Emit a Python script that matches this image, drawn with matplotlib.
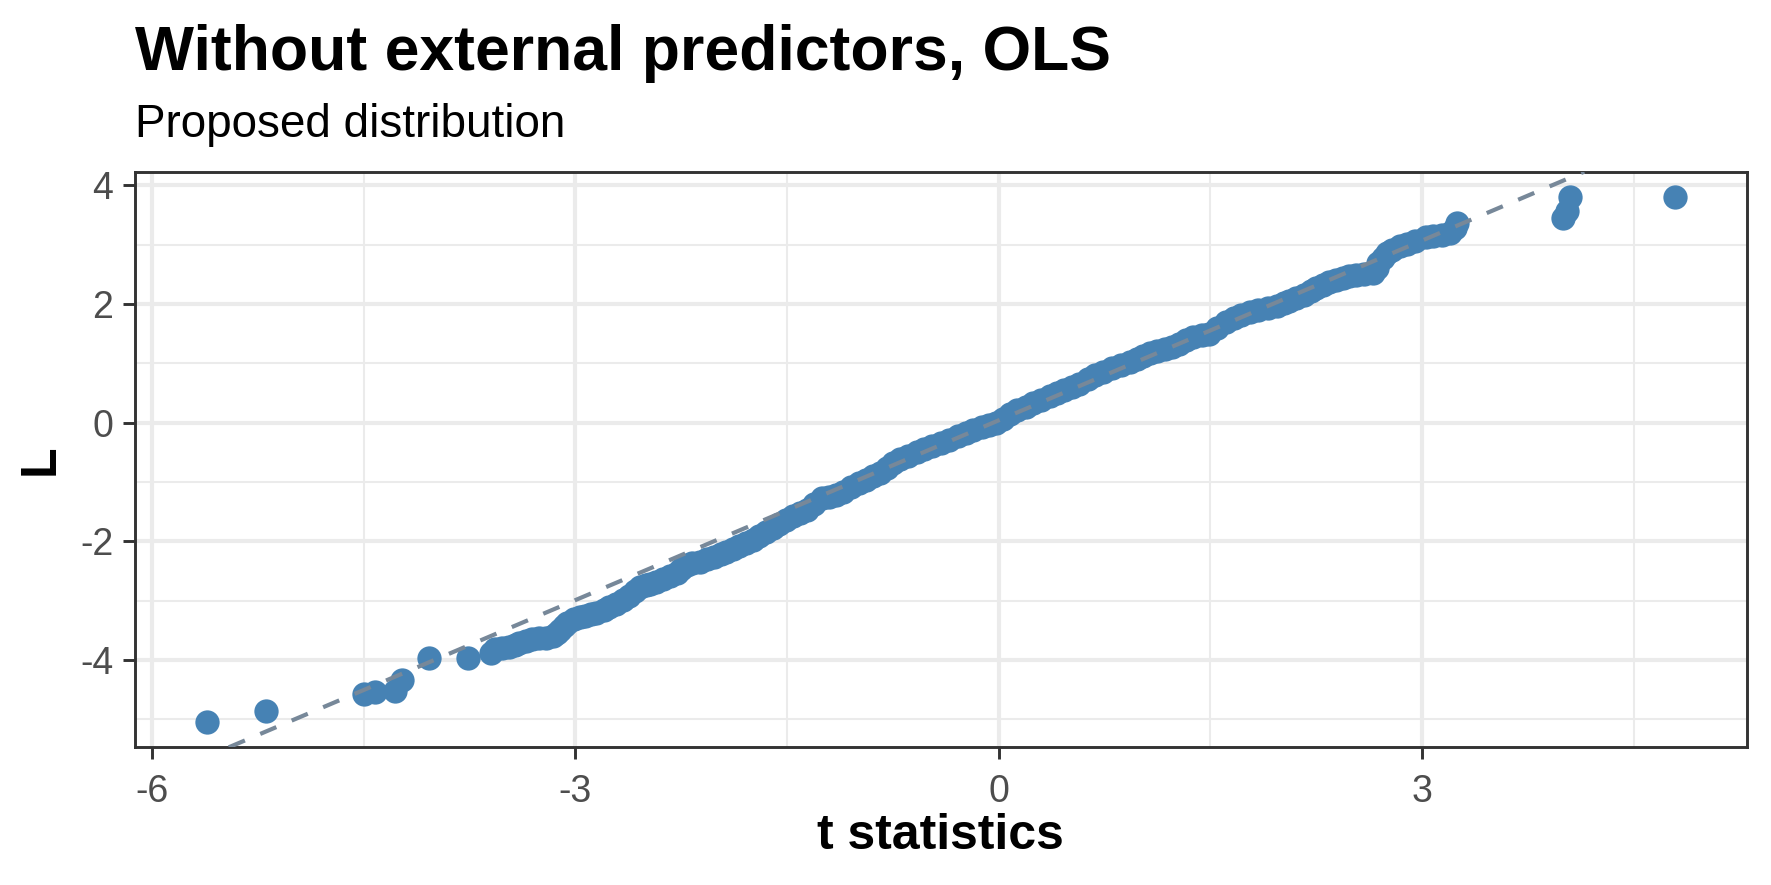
import numpy as np
import matplotlib
matplotlib.use("Agg")
import matplotlib.pyplot as plt
from matplotlib.ticker import MultipleLocator, FixedLocator

plt.rcParams['font.family'] = ['Liberation Sans', 'DejaVu Sans']

# ---------- data ----------
t_stat = [
    -5.61, -5.19, -4.50, -4.42, -4.28, -4.23, -4.04, -3.76,
    -3.60, -3.57, -3.52, -3.47, -3.43, -3.40, -3.35, -3.31, -3.26, -3.21,
    -3.16, -3.13, -3.11, -3.08, -3.06, -3.01, -2.97, -2.93, -2.89, -2.85,
    -2.80, -2.76, -2.71, -2.66, -2.62, -2.58, -2.54, -2.50, -2.47, -2.43,
    -2.38, -2.33, -2.28, -2.25, -2.21, -2.17, -2.12, -2.07, -2.02, -1.97,
    -1.93, -1.88, -1.84, -1.79, -1.74, -1.70, -1.65, -1.60, -1.56, -1.51,
    -1.46, -1.41, -1.36, -1.31, -1.25, -1.20, -1.15, -1.10, -1.05, -0.99,
    -0.94, -0.89, -0.84, -0.79, -0.75, -0.70, -0.64, -0.58, -0.53, -0.47,
    -0.41, -0.35, -0.29, -0.23, -0.18, -0.12, -0.07, -0.02, 0.03, 0.08,
    0.13, 0.19, 0.24, 0.30, 0.36, 0.41, 0.46, 0.52, 0.57, 0.63,
    0.68, 0.74, 0.80, 0.87, 0.93, 0.98, 1.02, 1.07, 1.12, 1.18,
    1.23, 1.28, 1.33, 1.38, 1.44, 1.49, 1.55, 1.61, 1.67, 1.72,
    1.78, 1.84, 1.91, 1.97, 2.02, 2.06, 2.11, 2.16, 2.21, 2.25,
    2.30, 2.34, 2.39, 2.44, 2.48, 2.53, 2.59, 2.65, 2.68, 2.69,
    2.72, 2.75, 2.79, 2.84, 2.89, 2.95, 3.03, 3.08, 3.14, 3.20,
    3.23, 3.25, 4.00, 4.03, 4.05, 4.79,
]
L_vals = [
    -5.04, -4.86, -4.58, -4.54, -4.52, -4.34, -3.96, -3.96,
    -3.88, -3.82, -3.80, -3.78, -3.75, -3.72, -3.68, -3.65, -3.63, -3.62,
    -3.60, -3.55, -3.50, -3.43, -3.37, -3.31, -3.28, -3.26, -3.23, -3.21,
    -3.15, -3.10, -3.05, -2.99, -2.92, -2.84, -2.77, -2.74, -2.71, -2.68,
    -2.63, -2.59, -2.54, -2.46, -2.39, -2.36, -2.34, -2.30, -2.26, -2.22,
    -2.18, -2.13, -2.08, -2.03, -1.98, -1.91, -1.84, -1.77, -1.70, -1.64,
    -1.58, -1.52, -1.47, -1.37, -1.27, -1.25, -1.22, -1.16, -1.09, -1.02,
    -0.96, -0.90, -0.85, -0.76, -0.68, -0.61, -0.56, -0.50, -0.45, -0.40,
    -0.34, -0.29, -0.23, -0.18, -0.13, -0.08, -0.04, -0.01, 0.07, 0.15,
    0.21, 0.27, 0.33, 0.39, 0.45, 0.50, 0.55, 0.61, 0.66, 0.73,
    0.80, 0.86, 0.92, 0.98, 1.03, 1.08, 1.13, 1.17, 1.21, 1.25,
    1.28, 1.33, 1.40, 1.45, 1.47, 1.49, 1.60, 1.70, 1.76, 1.82,
    1.87, 1.90, 1.93, 1.96, 2.01, 2.05, 2.10, 2.16, 2.22, 2.27,
    2.32, 2.37, 2.41, 2.44, 2.47, 2.49, 2.50, 2.52, 2.60, 2.69,
    2.78, 2.86, 2.91, 2.97, 3.02, 3.07, 3.13, 3.15, 3.17, 3.19,
    3.28, 3.36, 3.45, 3.56, 3.81, 3.81,
]
line_intercept = 0.04
line_slope = 1.01

x_major = [-6, -3, 0, 3]
x_minor = [-4.5, -1.5, 1.5, 4.5]
y_major = [-4, -2, 0, 2, 4]
y_minor = [-5, -3, -1, 1, 3]

# ---------- figure ----------
W, H, DPI = 1771, 885, 300
fig = plt.figure(figsize=(W / DPI, H / DPI), dpi=DPI)
ax = fig.add_axes([135 / W, 1 - 747.3 / H, (1746.7 - 135) / W, (747.3 - 171.7) / H])

grid_col = "#EBEBEB"
ax.set_xticks(x_major)
ax.set_yticks(y_major)
ax.xaxis.set_minor_locator(FixedLocator(x_minor))
ax.yaxis.set_minor_locator(FixedLocator(y_minor))
ax.grid(True, which="major", color=grid_col, lw=1.0)
ax.grid(True, which="minor", color=grid_col, lw=0.5)
ax.set_axisbelow(True)

ax.scatter(t_stat, L_vals, s=34, color="#4682B4", linewidths=0, zorder=3)
ax.axline((0, line_intercept), slope=line_slope, color="#778899", lw=1.0,
          dashes=(4.2, 4.0), zorder=4)

ax.set_xlim(-6.12, 5.30)
ax.set_ylim(-5.47, 4.23)

for sp in ax.spines.values():
    sp.set_color("#333333")
    sp.set_linewidth(0.7)
ax.tick_params(which="major", length=2.8, width=0.7, color="#333333",
               labelcolor="#4D4D4D", labelsize=9)
ax.tick_params(axis="x", which="major", pad=3.6)
ax.tick_params(axis="y", which="major", pad=2.4)
ax.tick_params(which="minor", length=0)
ax.set_xticklabels([str(v) for v in x_major])
ax.set_yticklabels([str(v) for v in y_major])

fig.text(135 / W, 1 - 70 / H, "Without external predictors, OLS",
         fontsize=15.0, fontweight="bold", ha="left", va="baseline")
fig.text(135 / W, 1 - 136.7 / H, "Proposed distribution",
         fontsize=11.0, ha="left", va="baseline")
fig.text(940.8 / W, 1 - 849 / H, "t statistics", fontsize=12,
         fontweight="bold", ha="center", va="baseline")
fig.text(41 / W, 1 - 459.5 / H, "L", fontsize=12, fontweight="bold",
         rotation=90, ha="center", va="center")

fig.savefig("out.png", dpi=DPI)
